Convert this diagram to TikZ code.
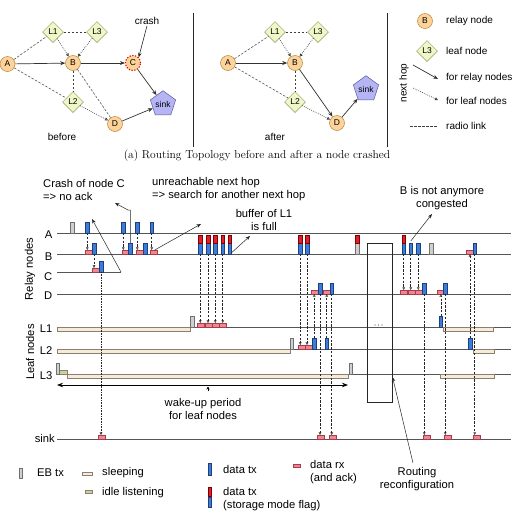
\documentclass[tikz,border=0pt]{standalone}
\usepackage{fontspec}
\setsansfont{Liberation Sans}
\usetikzlibrary{arrows.meta,shapes.geometric}
\definecolor{dblue}{HTML}{3B7DD8}
\definecolor{dblueb}{HTML}{1F3F7A}
\definecolor{dred}{HTML}{E0202A}
\definecolor{rxfill}{HTML}{E88A94}
\definecolor{rxdraw}{HTML}{B03848}
\definecolor{ebfill}{HTML}{CFCFCF}
\definecolor{ebdraw}{HTML}{707070}
\definecolor{sleepfill}{HTML}{F7EBDA}
\definecolor{sleepdraw}{HTML}{8A7F70}
\definecolor{idlefill}{HTML}{C9D39A}
\definecolor{relayfill}{HTML}{FDD39A}
\definecolor{relaydraw}{HTML}{B8863F}
\definecolor{leaffill}{HTML}{EFF7C9}
\definecolor{leafdraw}{HTML}{8E9A5A}
\definecolor{sinkfill}{HTML}{B5B5F5}
\definecolor{sinkdraw}{HTML}{5A5A9A}
\definecolor{linegray}{HTML}{555555}
\newcommand\fsT{\sffamily\fontsize{11.2}{13}\selectfont}
\newcommand\fsG{\sffamily\fontsize{10}{12}\selectfont}
\newcommand\fsN{\sffamily\fontsize{8.5}{9}\selectfont}
\newcommand\stx[3]{\node[dtx] (#1) at (#2,#3) {}; \node[redtop] at (#1.north) {};}
\tikzset{
  tline/.style={draw=linegray, line width=0.7pt},
  ebtx/.style={draw=ebdraw, fill=ebfill, line width=0.4pt, minimum width=3.6pt, minimum height=10.5pt, inner sep=0pt, anchor=south},
  dtx/.style={draw=dblueb, fill=dblue, line width=0.4pt, minimum width=3.6pt, minimum height=10.5pt, inner sep=0pt, anchor=south},
  redtop/.style={draw=red!50!black, fill=dred, line width=0.4pt, minimum width=3.6pt, minimum height=7.5pt, inner sep=0pt, anchor=south},
  drx/.style={draw=rxdraw, fill=rxfill, line width=0.4pt, minimum width=7pt, minimum height=3.6pt, inner sep=0pt, anchor=south west},
  sleepbar/.style={draw=sleepdraw, fill=sleepfill, line width=0.4pt},
  idlebar/.style={draw=sleepdraw, fill=idlefill, line width=0.4pt},
  darr/.style={dash pattern=on 2.4pt off 1.4pt, line width=0.45pt, black!85, -{Triangle[open,length=2.6pt,width=2.6pt]}},
  dotarr/.style={dash pattern=on 0.6pt off 1pt, line width=0.5pt, black!85, -{Triangle[open,length=2.6pt,width=2.6pt]}},
  annarr/.style={line width=0.5pt, black!85, -{Stealth[length=4.5pt,width=3.5pt]}},
  txt/.style={font=\fsT, inner sep=0pt},
  gtxt/.style={font=\fsG, inner sep=0pt},
  relay/.style={circle, draw=relaydraw, fill=relayfill, line width=0.5pt, minimum size=15pt, inner sep=0pt, font=\fsN},
  leaf/.style={diamond, draw=leafdraw, fill=leaffill, line width=0.5pt, minimum size=21pt, inner sep=0pt, font=\fsN},
  sinkn/.style={regular polygon, regular polygon sides=5, draw=sinkdraw, fill=sinkfill, line width=0.5pt, minimum size=26.6pt, inner sep=0pt, font=\fsN},
  solidarr/.style={line width=0.7pt, black!80, -{Stealth[length=5pt,width=4pt]}},
  leafarr/.style={dash pattern=on 0.8pt off 1.2pt, line width=0.6pt, black!80, -{Triangle[open,length=3pt,width=3pt]}},
  radio/.style={dash pattern=on 2.5pt off 1.5pt, line width=0.5pt, black!75},
}
\begin{document}
\begin{tikzpicture}[x=1pt,y=-1pt,font=\sffamily]
\useasboundingbox (0,0) rectangle (515,515);
\fill[white] (0,0) rectangle (515,515);

% ================= topology: before =================
\node[relay] (bA) at (7.5,64) {A};
\node[leaf] (bL1) at (53,32) {L1};
\node[leaf] (bL3) at (97,32) {L3};
\node[relay] (bB) at (73,63) {B};
\node[circle, fill=relayfill, draw=red!85!black, line width=1.1pt, dash pattern=on 1.2pt off 1.6pt, minimum size=15pt, inner sep=0pt, font=\fsN] (bC) at (133,63) {C};
\node[leaf] (bL2) at (73,102) {L2};
\node[relay] (bD) at (115,124) {D};
\node[sinkn] (bS) at (163,104) {sink};
\node[gtxt] (crash) at (147,21) {crash};
\node[gtxt] at (62,137) {before};
\draw[solidarr] (bA) -- (bB);
\draw[solidarr] (bB) -- (bC);
\draw[solidarr] (bC) -- (bS);
\draw[solidarr] (bD) -- (bS);
\draw[radio] (bA) -- (bL1);
\draw[radio] (bL1) -- (bL3);
\draw[radio] (bA) -- (bL2);
\draw[radio] (bB) -- (bL2);
\draw[radio] (bB) -- (bD);
\draw[leafarr] (bL1) -- (bB);
\draw[leafarr] (bL3) -- (bB);
\draw[leafarr] (bL2) -- (bD);
\draw[line width=0.6pt, black!85, -{Stealth[length=4.5pt,width=3.5pt]}] ([yshift=-1pt]crash.south) -- (bC.north east);

\draw[line width=1pt, black!85] (193,13) -- (193,147);

% ================= topology: after =================
\node[relay] (aA) at (228,63) {A};
\node[leaf] (aL1) at (275,32) {L1};
\node[leaf] (aL3) at (318,32) {L3};
\node[relay] (aB) at (295,63) {B};
\node[leaf] (aL2) at (295,102) {L2};
\node[relay] (aD) at (337,123) {D};
\node[sinkn] (aS) at (366,89) {sink};
\node[gtxt] at (275,137) {after};
\draw[solidarr] (aA) -- (aB);
\draw[solidarr] (aB) -- (aD);
\draw[solidarr] (aD) -- (aS);
\draw[radio] (aA) -- (aL1);
\draw[radio] (aL1) -- (aL3);
\draw[radio] (aA) -- (aL2);
\draw[radio] (aB) -- (aL2);
\draw[leafarr] (aL1) -- (aB);
\draw[leafarr] (aL3) -- (aB);
\draw[leafarr] (aL2) -- (aD);

\draw[line width=1pt, black!85] (387,13) -- (387,147);

% ================= topology legend =================
\node[relay] (lgB) at (425,21) {B};
\node[leaf] (lgL) at (427,51) {L3};
\node[gtxt, anchor=west] at (446,21) {relay node};
\node[gtxt, anchor=west] at (446,51) {leaf node};
\coordinate (ls1) at (413,65); \coordinate (ls2) at (438,79);
\coordinate (ll1) at (413,88); \coordinate (ll2) at (438,100);
\coordinate (lr1) at (410,126); \coordinate (lr2) at (437,126);
\draw[solidarr] (ls1) -- (ls2);
\draw[leafarr] (ll1) -- (ll2);
\draw[radio] (lr1) -- (lr2);
\node[gtxt, anchor=west] at (446,78) {for relay nodes};
\node[gtxt, anchor=west] at (446,101) {for leaf nodes};
\node[gtxt, anchor=west] at (446,126) {radio link};
\node[gtxt, rotate=90] at (404,83) {next hop};

% caption
\node[font=\rmfamily\fontsize{11.5}{13}\selectfont, inner sep=0pt] at (257,156) {(a) Routing Topology before and after a node crashed};

% ================= timeline =================
\node[txt, rotate=90] at (30,269) {Relay nodes};
\node[txt, rotate=90] at (30,352) {Leaf nodes};
\foreach \n/\ly in {A/235, B/257, C/277, D/296, L1/329, L2/351, L3/376}
  \node[txt, anchor=east] at (52.5,\ly) {\n};
\node[txt, anchor=east] at (55,438) {sink};

\foreach \yy in {233,254,294,327,349,374,439}
  \draw[tline] (57,\yy) -- (511,\yy);
\draw[tline] (57,272) -- (121,272);

% sleep / idle bars
\draw[sleepbar] (57,327) rectangle (190,331);
\draw[sleepbar] (443.3,327) rectangle (493.3,331);
\draw[sleepbar] (57,349) rectangle (290,353);
\draw[sleepbar] (472.7,349) rectangle (494.3,353);
\draw[sleepbar] (67,374) rectangle (348.3,378);
\draw[sleepbar] (440,374) rectangle (494.3,378);
\draw[idlebar] (59.5,370.3) rectangle (67,374);

% routing reconfiguration box
\node[draw=black!85, line width=0.6pt, minimum width=25pt, minimum height=159pt, inner sep=0pt] (rc) at (379.5,322.5) {};
\foreach \dx in {375,378.5,382} \fill[black!70] (\dx,325) circle (0.6pt);

% ---- A
\node[ebtx] (ea1) at (72,233) {};
\node[dtx] (a1) at (87.3,233) {};
\node[dtx] (a2) at (123.3,233) {};
\node[dtx] (a3) at (137.3,233) {};
\node[dtx] (a4) at (151.7,233) {};
% ---- B
\node[drx] (b1r) at (85,254) {};
\node[dtx] (b1) at (94,254) {};
\node[drx] (b2r) at (121.7,254) {};
\node[dtx] (b2) at (130.3,254) {};
\node[drx] (b3r) at (135.7,254) {};
\node[dtx] (b3) at (145,254) {};
\node[drx] (b4r) at (150,254) {};
\stx{bs1}{200.3}{254}
\stx{bs2}{208}{254}
\stx{bs3}{215.3}{254}
\stx{bs4}{222.7}{254}
\stx{bs5}{229.7}{254}
\stx{bs6}{300.3}{254}
\stx{bs7}{307}{254}
\node[ebtx] (eb1) at (357,254) {}; \node[redtop] at (eb1.north) {};
\stx{bs8}{403.7}{254}
\node[dtx] (b5) at (410.7,254) {};
\node[dtx] (b6) at (418.3,254) {};
\node[ebtx] (eb2) at (431.3,254) {};
\node[drx] (b7r) at (465.7,254) {};
\node[dtx] (b7) at (474.7,254) {};
% ---- C
\node[drx] (c1r) at (92.3,272) {};
\node[dtx] (c1) at (101,272) {};
% ---- D
\node[drx] (d1r) at (311,294) {};
\node[dtx] (d1) at (320,294) {};
\node[drx] (d2r) at (323.3,294) {};
\node[dtx] (d2) at (331.7,294) {};
\node[drx] (d3r) at (400,294) {};
\node[drx] (d4r) at (407.6,294) {};
\node[drx] (d5r) at (415.2,294) {};
\node[dtx] (d3) at (424.3,294) {};
\node[drx] (d6r) at (436.7,294) {};
\node[dtx] (d4) at (445.3,294) {};
% ---- L1
\node[ebtx] (el1) at (192,327) {};
\node[drx] (l1r1) at (197.3,327) {};
\node[drx] (l1r2) at (204.6,327) {};
\node[drx] (l1r3) at (211.9,327) {};
\node[drx] (l1r4) at (219.2,327) {};
\node[dtx] (l1b) at (440.8,327) {};
% ---- L2
\node[ebtx] (el2) at (291.7,349) {};
\node[drx] (l2r1) at (298.3,349) {};
\node[drx] (l2r2) at (305,349) {};
\node[dtx] (l2b1) at (314.3,349) {};
\node[dtx] (l2b2) at (326.7,349) {};
\node[dtx] (l2b3) at (470,349) {};
% ---- L3
\node[ebtx] (el3a) at (57.5,374) {};
\node[ebtx] (el3b) at (350.8,374) {};
% ---- sink
\node[drx] (s1) at (97.5,439) {};
\node[drx] (s2) at (316.7,439) {};
\node[drx] (s3) at (328.5,439) {};
\node[drx] (s4) at (422.7,439) {};
\node[drx] (s5) at (444,439) {};
\node[drx] (s6) at (472.7,439) {};

% ---- transmissions
\draw[darr] (a1.south) -- (a1.south |- b1r.north);
\draw[darr] (b1.south) -- (b1.south |- c1r.north);
\draw[dotarr] (c1.south) -- (c1.south |- s1.north);
\draw[darr] (a2.south) -- (a2.south |- b2r.north);
\draw[darr] (a3.south) -- (a3.south |- b3r.north);
\draw[darr] (a4.south) -- (a4.south |- b4r.north);
\draw[darr] (bs1.south) -- (bs1.south |- l1r1.north);
\draw[darr] (bs2.south) -- (bs2.south |- l1r2.north);
\draw[darr] (bs3.south) -- (bs3.south |- l1r3.north);
\draw[darr] (bs4.south) -- (bs4.south |- l1r4.north);
\draw[darr] (bs6.south) -- (bs6.south |- l2r1.north);
\draw[darr] (bs7.south) -- (bs7.south |- l2r2.north);
\draw[darr] (l2b1.north) -- (l2b1.north |- d1r.south);
\draw[darr] (d1.south) -- (d1.south |- s2.north);
\draw[darr] (l2b2.north) -- (l2b2.north |- d2r.south);
\draw[darr] (d2.south) -- (d2.south |- s3.north);
\draw[darr] (bs8.south) -- (bs8.south |- d3r.north);
\draw[darr] (b5.south) -- (b5.south |- d4r.north);
\draw[darr] (b6.south) -- (b6.south |- d5r.north);
\draw[darr] (d3.south) -- (d3.south |- s4.north);
\draw[darr] (l1b.north) -- (l1b.north |- d6r.south);
\draw[darr] (d4.south) -- (d4.south |- s5.north);
\draw[darr] (l2b3.north) -- (l2b3.north |- b7r.south);
\draw[darr] (b7.south) -- (b7.south |- s6.north);

% wake-up period
\coordinate (wl) at (57,385); \coordinate (wr) at (348,385);
\draw[line width=0.8pt, {Stealth[length=6pt,width=4.5pt]}-{Stealth[length=6pt,width=4.5pt]}] (wl) -- (wr);
\coordinate (wp1) at (208,391); \coordinate (wp2) at (208,386.5);
\draw[line width=0.4pt, -{Stealth[length=3pt,width=3pt]}] (wp1) -- (wp2);
\node[txt, align=center] at (203,408.5) {wake-up period\\for leaf nodes};

% annotations
\node[txt, anchor=west, align=left] (t1) at (43,189.5) {Crash of node C\\=> no ack};
\node[txt, anchor=west, align=left] (t2) at (152,189.5) {unreachable next hop\\=> search for another next hop};
\node[txt, align=center] (t3) at (264,219.5) {buffer of L1\\is full};
\node[txt, align=center] (t4) at (442,198.5) {B is not anymore\\congested};
\node[txt, align=center] (t5) at (417,479.5) {Routing\\reconfiguration};

\coordinate (k1) at (121,272); \coordinate (k1e) at (92,219);
\draw[annarr] (k1) -- (k1e);
\coordinate (k2) at (115,203); \coordinate (k2m) at (128,210);
\draw[annarr] (b2.north) -- (b2.north |- k2m) -- (k2m) -- (k2);
\coordinate (k3) at (201,224);
\draw[annarr] ([xshift=1pt]b4r.north) -- (k3);
\coordinate (k4) at (250,236);
\draw[annarr] ([yshift=-4pt]bs5.east) -- (k4);
\coordinate (k5) at (432,214);
\draw[annarr] ([yshift=2pt]b5.north) -- (k5);
\coordinate (k6) at (413,463); \coordinate (k6e) at (392.5,377);
\draw[annarr] (k6) -- (k6e);

% ================= bottom legend =================
\node[ebtx, minimum height=10pt] (lg1) at (20.5,478) {};
\node[txt, anchor=west] at (37,473) {EB tx};
\draw[sleepbar] (82,472) rectangle (92,475);
\node[txt, anchor=west] at (102,473) {sleeping};
\draw[idlebar] (85,490) rectangle (92,493);
\node[txt, anchor=west] at (102,493) {idle listening};
\node[dtx, minimum height=12pt] (lg2) at (209.5,475) {};
\node[txt, anchor=west] at (223,469) {data tx};
\node[dtx, minimum height=10pt] (lg3) at (209.5,507) {}; \node[redtop, minimum height=9pt] at (lg3.north) {};
\node[txt, anchor=west, align=left] at (223,499.5) {data tx\\(storage mode flag)};
\draw[draw=rxdraw, fill=rxfill, line width=0.4pt] (293,464) rectangle (300,467.5);
\node[txt, anchor=west, align=left] at (310,472.5) {data rx\\(and ack)};
\end{tikzpicture}
\end{document}
